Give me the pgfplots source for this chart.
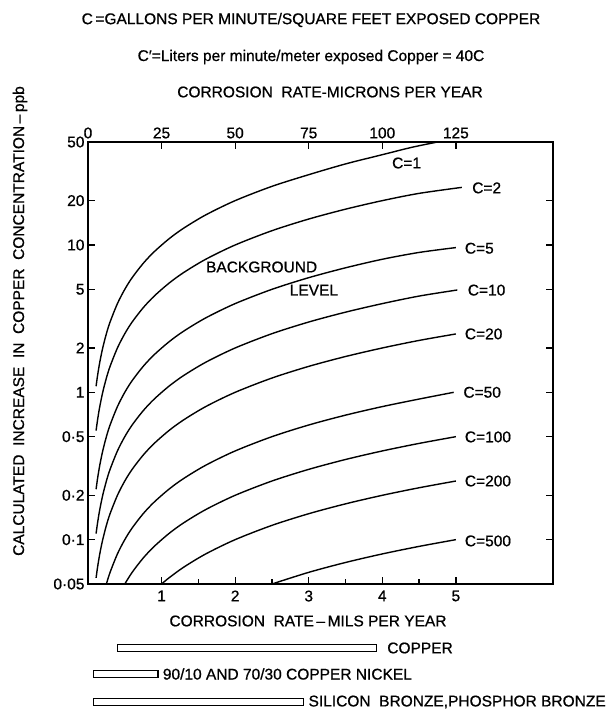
\documentclass[border=0pt]{standalone}
\usepackage{pgfplots}
\pgfplotsset{compat=1.18}
\usepackage{fontspec}
\setmainfont{Liberation Sans}[FakeBold=0.8]
\newcommand{\fs}{\fontsize{15.5}{17}\selectfont}
\pgfplotsset{
  curve/.style={black, line width=1.4pt, smooth, no markers},
  rangebar/.style={black, line width=1.3pt, sharp plot, no markers, line join=miter},
}

\begin{document}
\begin{tikzpicture}[x=1pt,y=1pt]
\useasboundingbox (-88,-129) rectangle (528,584);

% titles
\node[font=\fs] at (223,564) {C\,=GALLONS PER MINUTE/SQUARE FEET EXPOSED COPPER};
\node[font=\fs] at (223,527) {C′=Liters per minute/meter exposed Copper = 40C};
\node[font=\fs] at (242,492) {CORROSION\ \ RATE-MICRONS PER YEAR};
\node[font=\fs, rotate=90] at (-68,263) {CALCULATED\ \ INCREASE\ \ IN\ \ COPPER\ \ CONCENTRATION\,–\,ppb};
\node[font=\fs] at (220,-37) {CORROSION\ \ RATE\,–\,MILS PER YEAR};

% main axis
\begin{axis}[
  at={(0pt,0pt)}, anchor=south west, scale only axis,
  width=465pt, height=442pt,
  xmin=0, xmax=6.32, ymode=log, ymin=0.05, ymax=50,
  axis line style={line width=1.5pt},
  tick align=inside, xtick pos=bottom, ytick pos=both, yticklabel pos=left,
  xtick={1,2,3,4,5}, xticklabels={1,2,3,4,5},
  minor xtick={1.5,2.5,3.5,4.5},
  ytick={0.05,0.1,0.2,0.5,1,2,5,10,20,50},
  yticklabels={0·05,0·1,0·2,0·5,1,2,5,10,20,50},
  yminorticks=false,
  major tick length=7pt, minor tick length=5pt,
  tick style={line width=1.3pt, black},
  ticklabel style={font=\fs},
  xticklabel style={yshift=-3pt},
  clip=false,
  /pgf/number format/assume math mode=true,
]
% C = 1
\addplot[curve] coordinates {(0.11,1.1) (0.13,1.3) (0.16,1.6) (0.2,2) (0.25,2.5) (0.3,3) (0.4,4) (0.5,5) (0.6,6) (0.75,7.5) (0.9,9) (1.1,11) (1.3,13) (1.6,16) (2,20) (2.5,25) (3,30) (3.5,35.5) (4,41) (4.4,46) (4.75,50)};
% C = 2
\addplot[curve] coordinates {(0.11,0.55) (0.13,0.65) (0.16,0.8) (0.2,1) (0.25,1.25) (0.3,1.5) (0.4,2) (0.5,2.5) (0.6,3) (0.75,3.75) (0.9,4.5) (1.1,5.5) (1.3,6.5) (1.6,8) (2,10) (2.5,12.5) (3,15) (3.5,17.5) (4,20) (4.5,22.4) (5.08,24.6)};
% C = 5
\addplot[curve] coordinates {(0.11,0.22) (0.13,0.26) (0.16,0.32) (0.2,0.4) (0.25,0.5) (0.3,0.6) (0.4,0.8) (0.5,1) (0.6,1.2) (0.75,1.5) (0.9,1.8) (1.1,2.2) (1.3,2.6) (1.6,3.2) (2,4) (2.5,5) (3,6) (3.5,7) (4,8) (4.5,8.9) (5.0,9.6)};
% C = 10
\addplot[curve] coordinates {(0.11,0.11) (0.13,0.13) (0.16,0.16) (0.2,0.2) (0.25,0.25) (0.3,0.3) (0.4,0.4) (0.5,0.5) (0.6,0.6) (0.75,0.75) (0.9,0.9) (1.1,1.1) (1.3,1.3) (1.6,1.6) (2,2) (2.5,2.5) (3,3) (3.5,3.5) (4,4) (4.5,4.5) (5.02,4.95)};
% C = 20
\addplot[curve] coordinates {(0.11,0.055) (0.13,0.065) (0.16,0.08) (0.2,0.1) (0.25,0.125) (0.3,0.15) (0.4,0.2) (0.5,0.25) (0.6,0.3) (0.75,0.375) (0.9,0.45) (1.1,0.55) (1.3,0.65) (1.6,0.8) (2,1) (2.5,1.25) (3,1.5) (3.5,1.75) (4,2) (4.5,2.25) (5.0,2.49)};
% C = 50
\addplot[curve] coordinates {(0.25,0.05) (0.3,0.06) (0.4,0.08) (0.5,0.1) (0.6,0.12) (0.75,0.15) (0.9,0.18) (1.1,0.22) (1.3,0.26) (1.6,0.32) (2,0.4) (2.5,0.5) (3,0.6) (3.5,0.7) (4,0.8) (4.5,0.9) (4.97,1.0)};
% C = 100
\addplot[curve] coordinates {(0.5,0.05) (0.6,0.06) (0.75,0.075) (0.9,0.09) (1.1,0.11) (1.3,0.13) (1.6,0.16) (2,0.2) (2.5,0.25) (3,0.3) (3.5,0.35) (4,0.4) (4.5,0.45) (5.0,0.5)};
% C = 200
\addplot[curve] coordinates {(1,0.05) (1.1,0.055) (1.3,0.065) (1.6,0.08) (2,0.1) (2.5,0.125) (3,0.15) (3.5,0.175) (4,0.2) (4.5,0.225) (5.0,0.25)};
% C = 500
\addplot[curve] coordinates {(2.5,0.05) (3,0.06) (3.5,0.07) (4,0.08) (4.5,0.09) (5.0,0.1)};

\node[font=\fs] at (axis cs:4.33,36) {C=1};
\node[font=\fs, anchor=west, inner sep=0pt] at (axis cs:5.22,24.4) {C=2};
\node[font=\fs, anchor=west, inner sep=0pt] at (axis cs:5.12,9.5) {C=5};
\node[font=\fs, anchor=west, inner sep=0pt] at (axis cs:5.16,4.94) {C=10};
\node[font=\fs, anchor=west, inner sep=0pt] at (axis cs:5.12,2.49) {C=20};
\node[font=\fs, anchor=west, inner sep=0pt] at (axis cs:5.10,1.0) {C=50};
\node[font=\fs, anchor=west, inner sep=0pt] at (axis cs:5.12,0.498) {C=100};
\node[font=\fs, anchor=west, inner sep=0pt] at (axis cs:5.12,0.25) {C=200};
\node[font=\fs, anchor=west, inner sep=0pt] at (axis cs:5.12,0.098) {C=500};
\node[font=\fs] at (axis cs:2.36,7.09) {BACKGROUND};
\node[font=\fs] at (axis cs:3.07,4.94) {LEVEL};
\end{axis}

% top axis (microns per year)
\begin{axis}[
  at={(0pt,0pt)}, anchor=south west, scale only axis,
  width=465pt, height=442pt,
  xmin=0, xmax=158, ymin=0, ymax=1,
  axis x line*=top, axis y line=none,
  axis line style={line width=1.5pt},
  xtick={0,25,50,75,100,125}, xticklabels={0,25,50,75,100,125},
  tick align=inside, major tick length=7pt,
  tick style={line width=1.3pt, black},
  ticklabel style={font=\fs},
  /pgf/number format/assume math mode=true,
]
\addplot[draw=none, no markers] coordinates {(0,0) (1,1)};
\end{axis}

% bars of corrosion-rate ranges
\begin{axis}[
  at={(0pt,-129pt)}, anchor=south west, scale only axis,
  width=465pt, height=129pt,
  xmin=0, xmax=6.32, ymin=-129, ymax=0,
  hide axis, clip=false,
]
\addplot[rangebar] coordinates {(0.40,-60.5) (3.92,-60.5) (3.92,-67.5) (0.40,-67.5) (0.40,-60.5)};
\addplot[rangebar] coordinates {(0.07,-86.5) (0.95,-86.5) (0.95,-93.5) (0.07,-93.5) (0.07,-86.5)};
\addplot[rangebar] coordinates {(0.07,-114.5) (2.93,-114.5) (2.93,-121.5) (0.07,-121.5) (0.07,-114.5)};
\node[font=\fs, anchor=west] at (axis cs:4.02,-64) {COPPER};
\node[font=\fs, anchor=west] at (axis cs:0.97,-90) {90/10 AND 70/30 COPPER NICKEL};
\node[font=\fs, anchor=west] at (axis cs:2.95,-118) {SILICON\ \ BRONZE,PHOSPHOR BRONZE};
\end{axis}
\end{tikzpicture}
\end{document}
